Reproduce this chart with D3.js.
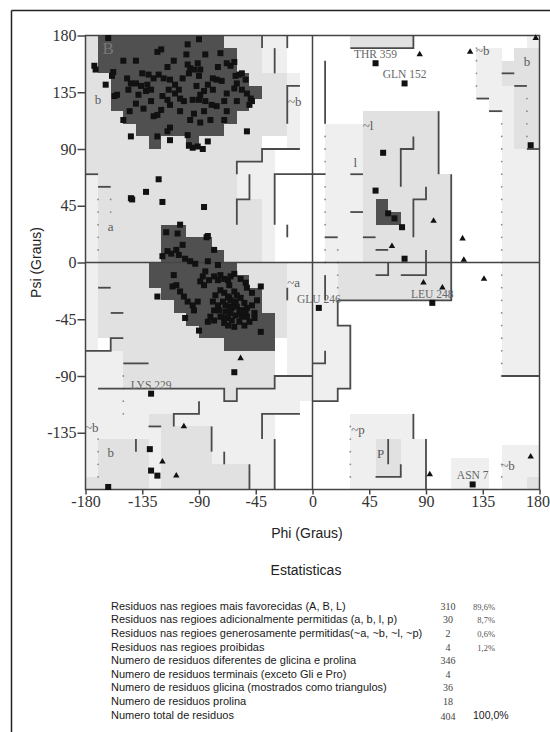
<!DOCTYPE html>
<html><head><meta charset="utf-8">
<script src="https://cdn.jsdelivr.net/npm/d3@7"></script>
<style>
html,body{margin:0;padding:0;background:#fff;}
svg{display:block;}
</style></head>
<body>
<svg id="chart" width="550" height="732"></svg>
<script>
// ---------- DATA ----------
const phiTicks = [-180,-135,-90,-45,0,45,90,135,180];
const psiTicks = [180,135,90,45,0,-45,-90,-135];

// regions [phiFrom, phiTo, psiFrom, psiTo]
const generousRegions = [
 [-40,-20,150,180],[-20,-10,90,150],[-60,-30,50,90],[-40,-30,0,50],
 [-180,-170,-70,70],[-20,0,-100,0],[-180,-150,-100,-70],[-180,-30,-180,-100],
 [-30,-10,-120,-100],[-30,0,-110,-90],[0,20,-110,0],[20,30,-100,-50],
 [10,40,0,110],[30,80,-180,-120],[80,90,-180,-140],[110,140,-180,-155],
 [150,180,-180,-145],[150,180,-90,140],[130,150,130,170],[140,150,120,130],[170,180,160,180]
];
const allowedRegions = [
 [-180,-40,90,180],[-40,-20,100,150],[-180,-170,70,90],[-170,-60,50,90],[-60,-40,80,90],
 [-170,-40,0,50],[-170,-20,-60,0],[-160,-30,-70,-60],[-150,-30,-100,-70],[-70,-60,-110,-100],
 [40,100,70,120],[40,110,-30,70],[20,40,-30,0],[30,80,170,180],[160,180,90,170],[150,160,140,160],
 [-170,-130,-180,-140],[-130,-110,-130,-120],[-120,-80,-180,-130],[-80,-50,-180,-160],
 [-180,-170,-180,-170],[170,180,-180,-170],[50,70,-170,-140]
];
const coreRegions = [
 [-170,-70,170,180],[-170,-60,150,170],[-160,-50,140,150],[-160,-40,130,140],[-160,-50,120,130],
 [-150,-60,110,120],[-140,-70,100,110],[-130,-120,90,100],[-100,-90,90,100],
 [-120,-100,20,30],[-120,-80,10,20],[-120,-70,0,10],[-130,-60,-10,0],[-130,-50,-20,-10],
 [-120,-40,-30,-20],[-110,-40,-40,-30],[-100,-30,-50,-40],[-90,-30,-60,-50],[-70,-30,-70,-60],
 [50,60,40,50],[50,70,30,40]
];

const boundaryLines = [
 [[-40,180],[-40,170]],[[-20,180],[-20,170]],[[-30,170],[-30,150]],
 [[-10,140],[-20,140],[-20,110]],
 [[-10,90],[-40,90],[-40,80],[-60,80],[-60,70]],
 [[-50,70],[-50,50],[-60,50],[-60,30]],
 [[10,70],[-30,70],[-30,30]],[[-20,30],[-20,20]],
 [[-180,70],[-170,70]],[[-170,60],[-160,60]],
 [[-170,-20],[-160,-20]],[[-160,-40],[-150,-40]],
 [[-180,-70],[-160,-70],[-160,-60],[-150,-60]],[[-150,-80],[-130,-80]],
 [[-170,-100],[-70,-100],[-70,-110],[-60,-110],[-60,-100],[-30,-100],[-30,-90],[0,-90]],
 [[-20,-20],[-20,-30]],
 [[-110,-130],[-110,-120],[-90,-120],[-90,-110]],
 [[-40,-140],[-40,-120],[-10,-120]],
 [[-30,-140],[-30,-180]],[[-50,-160],[-50,-180]],[[-80,-130],[-80,-150]],
 [[-70,-150],[-70,-160]],[[-140,-140],[-140,-150]],[[-130,-130],[-120,-130]],
 [[30,170],[80,170],[80,180]],[[10,160],[10,110]],[[100,120],[100,70]],
 [[70,60],[70,90],[80,90],[80,100]],[[80,20],[80,50],[90,50],[90,60]],
 [[110,70],[110,-30],[20,-30]],
 [[30,70],[40,70]],[[30,40],[40,40]],[[10,20],[20,20]],[[40,20],[50,20]],[[50,10],[60,10]],
 [[50,-10],[60,-10],[60,0]],[[70,-10],[90,-10],[90,10]],
 [[20,-30],[20,-50],[30,-50],[30,-100],[20,-100],[20,-110],[0,-110]],
 [[10,-70],[10,-80],[0,-80]],[[10,-10],[10,-30]],
 [[150,150],[160,150]],[[160,140],[170,140]],[[130,130],[140,130]],[[140,120],[150,120]],
 [[170,90],[180,90]],[[150,-90],[180,-90]],
 [[80,-120],[80,-140]],[[90,-140],[90,-180]],[[60,-140],[60,-160]],[[50,-170],[70,-170],[70,-160]]
];
// dotted guide lines [phi, psiFrom, psiTo]
const dottedLines = [
 [-170,10,50],[-160,40,50],[-170,-170,-140],[-150,-120,-90],[10,0,100],[20,-20,10],
 [150,-90,120],[130,140,170],[170,100,130],[30,-170,-130],[150,-170,-160]
];

const betaPoints = [
 [-162,178],[-90,177],[-99,173],[-123,167],[-120,169],[-73,166],[-173,156],[-172,153],[-158,151],[-159,148],
 [-147,146],[-144,142],[-146,137],[-130,149],[-126,146],[-122,149],[-118,146],[-113,145],[-109,141],[-106,137],
 [-99,157],[-97,154],[-98,150],[-94,153],[-91,158],[-89,153],[-90,148],[-83,141],[-79,146],[-76,145],
 [-72,144],[-68,158],[-65,156],[-62,159],[-61,148],[-58,149],[-56,150],[-53,145],[-60,142],[-62,138],
 [-56,137],[-52,134],[-49,130],[-48,128],[-50,125],[-68,134],[-70,128],[-76,124],[-79,137],[-86,136],
 [-89,133],[-90,129],[-85,128],[-95,129],[-102,128],[-105,130],[-109,134],[-114,137],[-119,132],[-115,129],
 [-113,125],[-120,121],[-123,117],[-126,116],[-134,122],[-132,136],[-136,140],[-155,133],[-157,132],[-164,141],
 [-150,113],[-144,100],[-123,100],[-113,97],[-113,107],[-115,104],[-94,118],[-97,113],[-86,120],[-81,113],
 [-70,113],[-68,120],[-89,111],[-99,101],[-98,93],[-95,91],[-91,92],[-87,90],[-83,96],[-140,142],
 [-131,141],[-128,137],[-138,133],[-140,126],[-100,165],[-110,160],[-85,165],[-140,160],[-150,160],[-135,150],
 [-105,120],[-80,125],[-60,128],[-145,120],[-128,128],[-92,140],[-75,155],[-115,155],[-103,146]
];
const alphaPoints = [
 [-116,24],[-107,23],[-103,14],[-84,20],[-78,10],[-115,9],[-112,7],[-108,10],[-106,6],[-119,5],
 [-101,3],[-97,1],[-93,-1],[-83,1],[-75,-2],[-85,-7],[-87,-11],[-110,-10],[-108,-18],[-123,-27],
 [-111,-19],[-105,-23],[-102,-27],[-99,-31],[-95,-34],[-91,-31],[-94,-38],[-101,-44],[-89,-15],[-86,-18],
 [-82,-14],[-78,-11],[-75,-14],[-73,-10],[-70,-13],[-67,-14],[-65,-11],[-62,-9],[-66,-18],[-57,-13],
 [-53,-16],[-52,-20],[-48,-24],[-44,-30],[-41,-19],[-73,-22],[-70,-24],[-67,-27],[-65,-30],[-62,-32],
 [-60,-35],[-57,-38],[-65,-40],[-67,-44],[-70,-48],[-62,-51],[-58,-47],[-56,-43],[-53,-40],[-52,-36],
 [-54,-32],[-57,-28],[-60,-26],[-62,-23],[-66,-35],[-69,-39],[-64,-46],[-61,-42],[-71,-31],[-75,-34],
 [-78,-38],[-81,-43],[-83,-47],[-77,-26],[-79,-31],[-48,-34],[-46,-40],[-50,-47],[-54,-50],[-67,-50],
 [-73,-43],[-74,-38],[-56,-38],[-61,-31],[-66,-28],[-69,-34],[-58,-40],[-64,-36],[-70,-44],[-52,-43],
 [-90,-54],[-78,-46],[-46,-44],[-41,-55],[-105,30],[-83,21]
];
const otherPoints = [
 [-122,66],[-144,51],[-143,50],[-132,56],[-119,48],[-86,44],[-52,104],[-62,-87],
 [5,-36],[95,-32],[73,3],[56,87],[50,57],[71,28],[60,39],[65,35],[50,158],[73,142],[173,93],
 [-128,-104],[-129,-148],[-128,-165],[-123,-169],[-162,-178],[127,-176]
];
const glyPoints = [
 [85,165],[125,167],[177,178],[96,33],[119,19],[120,2],[63,13],[88,-16],[103,-20],[136,-13],
 [-57,-76],[-102,-130],[-119,-158],[-108,-169],[93,-168],[173,-154]
];
const residueLabels = [
 ["THR 359",50,158],["GLN 152",73,142],["GLU 246",5,-36],["LEU 248",95,-32],["LYS 229",-128,-104],["ASN 7",127,-176]
];
const regionLabels = [
 ["b",-170,129],["~b",-14,127],["a",-160,28],["~a",-15,-16],["~l",44,108],["l",34,79],
 ["~b",135,168],["b",170,159],["~p",36,-133],["P",54,-152],["~b",155,-161],["~b",-175,-131],["b",-160,-151]
];
const coreLabels = [["B",-162,170]];

const tableLabels = [
 "Residuos nas regioes mais favorecidas (A, B, L)",
 "Residuos nas regioes adicionalmente permitidas (a, b, l, p)",
 "Residuos nas regioes generosamente permitidas(~a, ~b, ~l, ~p)",
 "Residuos nas regioes proibidas",
 "Numero de residuos diferentes de glicina e prolina",
 "Numero de residuos terminais (exceto Gli e Pro)",
 "Numero de residuos glicina (mostrados como triangulos)",
 "Numero de residuos prolina",
 "Numero total de residuos"
];
const tableCounts = ["310","30","2","4","346","4","36","18","404"];
const tablePercents = ["89,6%","8,7%","0,6%","1,2%","","","","",""];
const totalPercent = "100,0%";

// ---------- DRAW ----------
const svg = d3.select("#chart");
const SERIF = "'Liberation Serif','Times New Roman',serif";
const SANS = "'Liberation Sans',Arial,sans-serif";

// outer frame (top & left)
svg.append("line").attr("x1",11.5).attr("y1",10.5).attr("x2",550).attr("y2",10.5).attr("stroke","#222").attr("stroke-width",1.5);
svg.append("line").attr("x1",11.5).attr("y1",10.5).attr("x2",11.5).attr("y2",732).attr("stroke","#222").attr("stroke-width",1.5);

const x = d3.scaleLinear().domain([-180,180]).range([85.5,539.5]);
const y = d3.scaleLinear().domain([-180,180]).range([489.5,35.5]);

const g = svg.append("g");
function drawRegions(list, color){
  g.append("g").selectAll("rect").data(list).join("rect")
   .attr("x",d=>x(d[0])).attr("y",d=>y(d[3]))
   .attr("width",d=>x(d[1])-x(d[0])).attr("height",d=>y(d[2])-y(d[3]))
   .attr("fill",color).attr("shape-rendering","crispEdges");
}
drawRegions(generousRegions,"#efefef");
drawRegions(allowedRegions,"#e1e1e1");
drawRegions(coreRegions,"#505050");

// dotted guides
const dotData = [];
dottedLines.forEach(([p,a,b])=>{ for(let s=a;s<=b;s+=10) dotData.push([p,s]); });
g.append("g").selectAll("circle").data(dotData).join("circle")
 .attr("cx",d=>x(d[0])).attr("cy",d=>y(d[1])).attr("r",0.9).attr("fill","#8a8a8a");

// boundary lines
const line = d3.line().x(d=>x(d[0])).y(d=>y(d[1]));
g.append("g").selectAll("path").data(boundaryLines).join("path")
 .attr("d",line).attr("fill","none").attr("stroke","#4a4a4a").attr("stroke-width",1.8);

// axes zero lines
g.append("line").attr("x1",x(-180)).attr("x2",x(180)).attr("y1",y(0)).attr("y2",y(0)).attr("stroke","#444").attr("stroke-width",1.5);
g.append("line").attr("x1",x(0)).attr("x2",x(0)).attr("y1",y(180)).attr("y2",y(-180)).attr("stroke","#444").attr("stroke-width",1.5);
// frame
g.append("rect").attr("x",x(-180)).attr("y",y(180)).attr("width",x(180)-x(-180)).attr("height",y(-180)-y(180))
 .attr("fill","none").attr("stroke","#444").attr("stroke-width",1.5);

// region labels
g.append("g").selectAll("text").data(regionLabels).join("text")
 .attr("x",d=>x(d[1])).attr("y",d=>y(d[2])+4).attr("text-anchor","middle")
 .attr("font-family",SERIF).attr("font-size",13).attr("fill","#5a5a5a").text(d=>d[0]);
g.append("g").selectAll("text").data(coreLabels).join("text")
 .attr("x",d=>x(d[1])).attr("y",d=>y(d[2])+6).attr("text-anchor","middle")
 .attr("font-family",SERIF).attr("font-size",17).attr("fill","#777").text(d=>d[0]);

// points
const sq = 6;
g.append("g").selectAll("rect").data(betaPoints.concat(alphaPoints, otherPoints)).join("rect")
 .attr("x",d=>x(d[0])-sq/2).attr("y",d=>y(d[1])-sq/2).attr("width",sq).attr("height",sq).attr("fill","#111");
g.append("g").selectAll("path").data(glyPoints).join("path")
 .attr("transform",d=>`translate(${x(d[0])},${y(d[1])})`)
 .attr("d",d3.symbol(d3.symbolTriangle,18)).attr("fill","#111");

// residue labels
g.append("g").selectAll("text").data(residueLabels).join("text")
 .attr("x",d=>x(d[1])).attr("y",d=>y(d[2])-5).attr("text-anchor","middle")
 .attr("font-family",SERIF).attr("font-size",11.5).attr("fill","#666").text(d=>d[0]);

// axes
const yAxis = d3.axisLeft(y).tickValues(psiTicks).tickSize(8).tickPadding(1).tickFormat(d=>String(d));
const ya = svg.append("g").attr("transform",`translate(${x(-180)},0)`).call(yAxis);
const xAxis = d3.axisBottom(x).tickValues(phiTicks).tickSize(5).tickPadding(1).tickFormat(d=>String(d));
const xa = svg.append("g").attr("transform",`translate(0,${y(-180)})`).call(xAxis);
[ya,xa].forEach(a=>{
  a.select(".domain").remove();
  a.selectAll(".tick line").attr("stroke","#444").attr("stroke-width",1.5);
  a.selectAll(".tick text").attr("font-family",SERIF).attr("font-size",16).attr("fill","#333");
});
// keep the last phi label inside the page
xa.selectAll(".tick text").filter(d=>d===180).attr("text-anchor","end").attr("x",10);

// axis titles
svg.append("text").attr("transform",`translate(41,${y(0)}) rotate(-90)`).attr("text-anchor","middle")
 .attr("font-family",SANS).attr("font-size",14).attr("fill","#222").text("Psi (Graus)");
svg.append("text").attr("x",307).attr("y",538).attr("text-anchor","middle")
 .attr("font-family",SANS).attr("font-size",14).attr("fill","#222").text("Phi (Graus)");
svg.append("text").attr("x",306).attr("y",575).attr("text-anchor","middle")
 .attr("font-family",SANS).attr("font-size",14).attr("fill","#222").text("Estatisticas");

// table
const rowY = i => 606 + i*13.6 + 3.8;
const tg = svg.append("g");
tg.selectAll("text.lab").data(tableLabels).join("text").attr("class","lab")
 .attr("x",111).attr("y",(d,i)=>rowY(i)).attr("font-family",SANS).attr("font-size",11).attr("fill","#1a1a1a").text(d=>d);
tg.selectAll("text.cnt").data(tableCounts).join("text").attr("class","cnt")
 .attr("x",448).attr("y",(d,i)=>rowY(i)+(i===8?1.5:0)).attr("text-anchor","middle").attr("font-family",SERIF).attr("font-size",10).attr("fill","#444").text(d=>d);
tg.selectAll("text.pct").data(tablePercents).join("text").attr("class","pct")
 .attr("x",495).attr("y",(d,i)=>rowY(i)).attr("text-anchor","end").attr("font-family",SERIF).attr("font-size",8.5).attr("fill","#555").text(d=>d);
tg.append("text").attr("x",473).attr("y",rowY(8)).attr("font-family",SANS).attr("font-size",10.5).attr("fill","#1a1a1a").text(totalPercent);
</script>
</body></html>
